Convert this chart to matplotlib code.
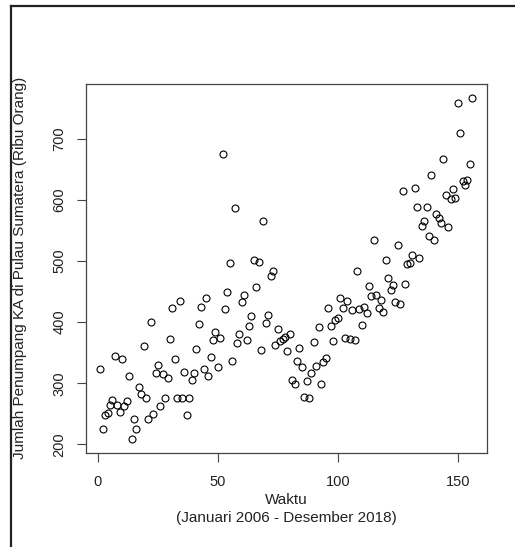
import numpy as np
import matplotlib
matplotlib.use("Agg")
import matplotlib.pyplot as plt
from matplotlib.lines import Line2D

# --- DATA: penumpang KA per bulan (ribu orang), Jan 2006 - Des 2018 ---
waktu = np.arange(1, 157)
penumpang = [
    323, 225, 248, 252, 264, 273, 345, 264, 253, 340,
    263, 271, 312, 209, 241, 225, 293, 283, 361, 276,
    241, 400, 249, 317, 329, 262, 315, 275, 309, 373,
    423, 339, 275, 435, 276, 319, 248, 275, 305, 316,
    356, 397, 425, 323, 439, 312, 343, 371, 384, 326,
    374, 675, 422, 449, 497, 336, 587, 365, 381, 433,
    445, 371, 393, 410, 502, 458, 498, 354, 566, 398,
    412, 476, 483, 363, 389, 369, 372, 375, 352, 381,
    305, 299, 336, 358, 326, 278, 303, 275, 317, 368,
    328, 392, 299, 334, 341, 423, 393, 369, 404, 407,
    440, 423, 374, 435, 373, 419, 370, 483, 421, 395,
    425, 415, 459, 443, 534, 445, 423, 436, 416, 502,
    472, 452, 460, 433, 526, 429, 614, 462, 495, 497,
    510, 619, 588, 504, 557, 566, 588, 540, 640, 535,
    576, 570, 562, 666, 608, 556, 602, 618, 603, 758,
    709, 630, 624, 633, 659, 767,
]
xticks = [0, 50, 100, 150]
yticks = [200, 300, 400, 500, 600, 700]

judul_x = "Waktu"
sub_x = "(Januari 2006 - Desember 2018)"
judul_y = "Jumlah Penumpang KA di Pulau Sumatera (Ribu Orang)"

plt.rcParams['font.family'] = ['Liberation Sans', 'DejaVu Sans']

W, H = 515, 547
fig = plt.figure(figsize=(W / 100, H / 100), dpi=100)

def px(x, y):
    # pixel (dari kiri-atas) -> koordinat figure
    return x / W, 1 - y / H

# posisi axes dalam pixel
kiri, kanan, atas, bawah = 85.5, 487, 84, 452.5
ax = fig.add_axes([kiri / W, 1 - bawah / H, (kanan - kiri) / W, (bawah - atas) / H])

ax.plot(waktu, penumpang, linestyle='none', marker='o', markersize=5,
        markerfacecolor='none', markeredgecolor='black', markeredgewidth=0.8)

# batas sumbu ala R (4% di tiap sisi)
xr = waktu.max() - waktu.min()
yr = max(penumpang) - min(penumpang)
ax.set_xlim(waktu.min() - 0.04 * xr, waktu.max() + 0.04 * xr)
ax.set_ylim(min(penumpang) - 0.04 * yr, max(penumpang) + 0.04 * yr)

ax.set_xticks(xticks)
ax.set_yticks(yticks)
ax.tick_params(axis='both', direction='out', length=6.5, width=0.8,
               color='#444444', labelsize=10.5, labelcolor='#222222')
ax.tick_params(axis='x', pad=10)
ax.tick_params(axis='y', pad=7)
for lbl in ax.get_yticklabels():
    lbl.set_rotation(90)
    lbl.set_va('center')

for sp in ax.spines.values():
    sp.set_color('#444444')
    sp.set_linewidth(0.9)

# label sumbu
fig.text(*px((kiri + kanan) / 2, 500), judul_x, ha='center', va='center',
         fontsize=11, color='#222222')
fig.text(*px((kiri + kanan) / 2, 518), sub_x, ha='center', va='center',
         fontsize=11, color='#222222')
fig.text(*px(20, (atas + bawah) / 2), judul_y, ha='center', va='center',
         rotation=90, fontsize=11, color='#222222')

# bingkai luar (kiri dan atas)
x0, y0 = px(11, 6)
fig.add_artist(Line2D([x0, x0], [0, y0], color='#222222', lw=1.6))
fig.add_artist(Line2D([x0, 1], [y0, y0], color='#222222', lw=1.6))

fig.savefig("out.png", dpi=100)
